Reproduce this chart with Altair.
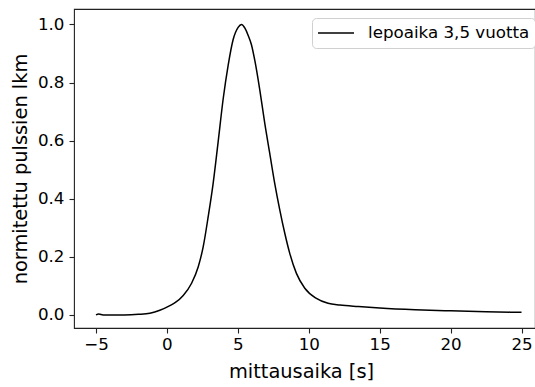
import altair as alt
import pandas as pd

# measurement time [s]
time_s = [-5, -4.8, -4.5, -3, -2, -1.2, -0.5, 0.21, 0.6, 1.15, 1.74, 2.21, 2.56,
          2.91, 3.26, 3.61, 3.97, 4.32, 4.67, 5.02, 5.26, 5.5, 5.73, 5.96, 6.2,
          6.55, 6.9, 7.25, 7.6, 7.96, 8.31, 8.66, 9.13, 9.72, 10.54, 11.36,
          12.2, 13.5, 15, 17.5, 20, 22.5, 25]
# normalized pulse count
pulses = [0.0, 0.003, 0.0, 0.0, 0.002, 0.006, 0.016, 0.032, 0.043, 0.067, 0.109,
          0.166, 0.235, 0.338, 0.453, 0.595, 0.745, 0.86, 0.948, 0.99, 1.0,
          0.987, 0.962, 0.93, 0.875, 0.774, 0.659, 0.556, 0.453, 0.361, 0.281,
          0.212, 0.143, 0.092, 0.057, 0.040, 0.034, 0.029, 0.024, 0.018, 0.014,
          0.011, 0.009]
series_name = "lepoaika 3,5 vuotta"

x_ticks = [-5, 0, 5, 10, 15, 20, 25]
y_ticks = [0.0, 0.2, 0.4, 0.6, 0.8, 1.0]

df = pd.DataFrame({"t": time_s, "n": pulses, "s": [series_name] * len(time_s)})

FONT = "DejaVu Sans"

chart = alt.Chart(df).mark_line(strokeWidth=1.5, interpolate="monotone").encode(
    x=alt.X("t:Q", title="mittausaika [s]",
            scale=alt.Scale(domain=[-6.55, 25.95], nice=False, zero=False),
            axis=alt.Axis(values=x_ticks, format="d", titleX=227)),
    y=alt.Y("n:Q", title="normitettu pulssien lkm",
            scale=alt.Scale(domain=[-0.045, 1.053], nice=False, zero=False),
            axis=alt.Axis(values=y_ticks, format=".1f")),
    color=alt.Color("s:N", scale=alt.Scale(range=["black"]),
                    legend=alt.Legend(title=None, orient="none", legendX=238, legendY=9,
                                      symbolType="stroke", symbolSize=1296,
                                      symbolStrokeWidth=1.5, labelFontSize=16.7,
                                      labelFont=FONT, labelColor="black",
                                      labelOffset=13, labelLimit=400,
                                      clipHeight=20, padding=5,
                                      strokeColor="#d0d0d0", fillColor="white",
                                      cornerRadius=4)),
).properties(
    width=461, height=319,
    autosize=alt.AutoSizeParams(type="none"),
    padding={"left": 74, "top": 9, "right": 0, "bottom": 59},
).configure_view(
    stroke="#222222", strokeWidth=1.1
).configure_axis(
    domain=False, grid=False, ticks=True, tickSize=5, tickColor="#222222",
    tickWidth=1.1, labelFont=FONT, labelFontSize=16.7, labelColor="black",
    titleFont=FONT, titleFontSize=19.4, titleFontWeight="normal", titleColor="black",
    labelPadding=5,
).configure_axisX(
    labelPadding=3, titlePadding=10
).configure_axisY(
    titlePadding=7
)

chart.save("out.html", embed_options={"renderer": "svg", "actions": False})
